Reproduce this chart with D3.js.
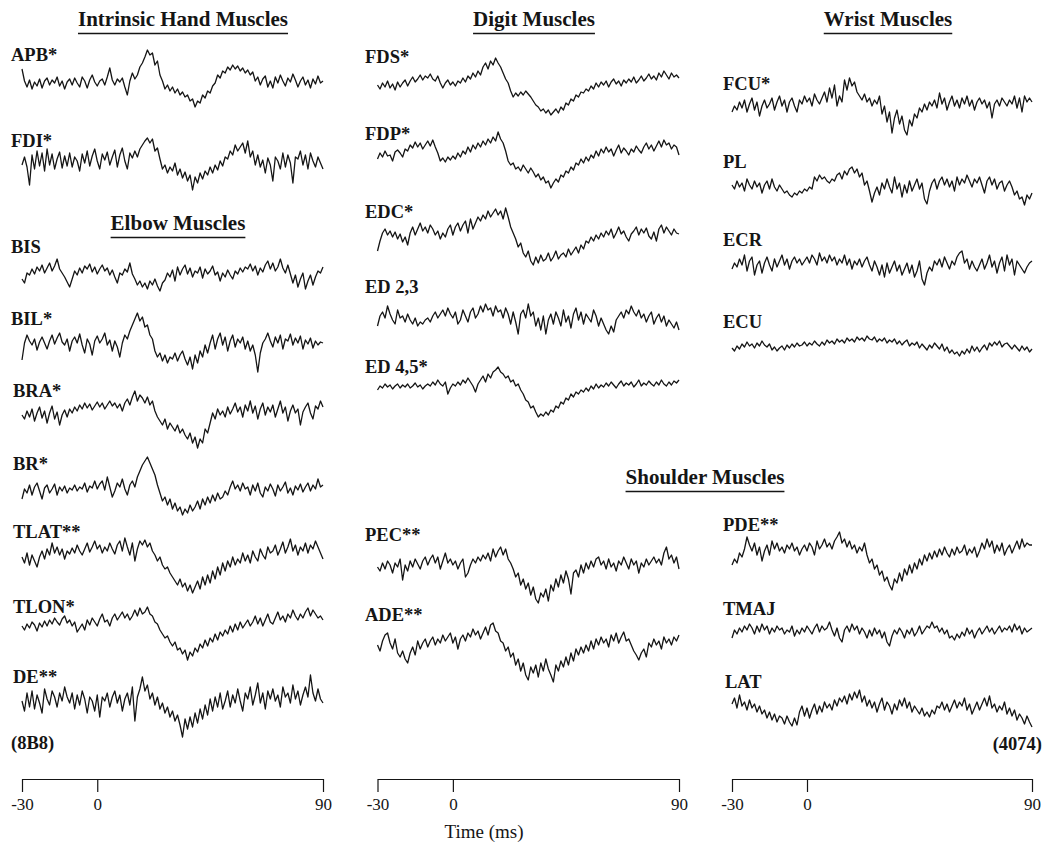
<!DOCTYPE html>
<html><head><meta charset="utf-8">
<script src="https://cdn.jsdelivr.net/npm/d3@7"></script>
<style>body{margin:0;background:#fff}svg{display:block}</style>
</head><body><svg id="c" width="1046" height="846"></svg>
<script>
// ---- data (spike-triggered averages, arbitrary units, up = positive) ----
const timeMs = d3.range(-30, 91, 1);        // sample times, -30 .. 90 ms
const axisTicks = [-30, 0, 90];
const groupTitles = ["Intrinsic Hand Muscles", "Elbow Muscles", "Digit Muscles", "Wrist Muscles", "Shoulder Muscles"];
const cellIds = ["(8B8)", "(4074)"];
const axisTitle = "Time (ms)";

const APB = [14,2,-4,3,-6,1,-3,4,-5,2, 5,-2,3,0,6,-3,2,-6,1,4, -2,5,0,-4,6,2,-5,3,8,1, -3,2,4,-2,6,15,3,-2,4,1, 5,-4,-12,2,10,4,8,16,20,26, 33,28,30,18,22,8,2,-6,-2,-8, -4,-10,-6,-12,-9,-14,-12,-18,-16,-24, -18,-20,-12,-15,-8,-10,-3,0,8,5, 12,10,16,13,18,14,17,12,15,10, 13,8,11,2,6,-2,4,7,-4,2, -5,6,0,8,2,-3,5,1,9,3, -4,2,6,-2,3,-5,4,-1,7,0, 2];
const FDI = [-2,6,-4,-22,8,-6,12,-3,10,-8, 14,-2,9,-6,4,11,-5,7,-3,10, -4,6,2,-8,9,0,12,-3,7,14, 2,-6,9,3,11,-2,6,13,-4,8, 15,2,-6,10,5,12,6,14,18,22, 25,20,24,12,15,4,-6,-2,-10,-4, -8,0,-12,-6,-15,-9,-18,-12,-27,-14, -20,-10,-16,-8,-12,-4,-10,-2,-7,2, -3,6,4,12,8,18,12,16,20,10, 22,6,12,-2,8,-4,3,-10,5,-2, -18,6,2,-6,10,-4,8,0,-20,6, 4,12,-2,8,-6,10,2,-4,6,0, -6];
const BIS = [-2,-6,4,2,8,3,10,6,12,4, 9,14,6,11,18,8,4,0,-5,-10, -2,6,2,9,4,11,8,13,5,10, 3,8,12,6,9,2,7,0,-6,4, 2,8,5,14,3,-2,-8,-4,-10,-6, -12,-4,-8,-2,-9,-14,-6,-3,4,0, 7,-4,10,2,8,12,3,9,0,6, 4,10,-1,8,3,6,11,2,5,-4, 4,0,7,2,-2,6,3,9,5,10, 8,13,6,11,2,9,5,12,16,8, 14,6,10,18,9,4,12,3,-6,2, -10,-2,4,-12,-4,2,-8,0,6,4, 10];
const BIL = [-13,4,12,6,2,8,-3,5,10,4, -2,6,12,3,9,14,5,2,8,-4, 6,10,4,13,2,-6,8,3,-8,6, 11,4,8,14,2,7,-4,6,0,-10, 4,12,8,16,22,28,34,26,30,20, 22,12,8,-4,-10,-6,-14,-8,-16,-10, -12,-6,-14,-8,-4,-12,-18,-10,-22,-8, -16,-4,-10,2,-6,4,12,-2,8,14, 2,10,-4,6,12,0,8,4,10,-2, 6,-4,2,-8,-25,-6,4,8,14,6, 0,10,4,12,-2,8,6,13,2,9, 4,11,-2,7,3,9,-1,6,2,5, 4];
const BRA = [0,-4,4,-2,6,-6,2,8,-3,4, -8,2,9,-4,3,-10,0,5,-2,6, 2,8,4,10,6,12,7,11,5,9, 13,8,12,6,10,14,9,12,7,11, 4,12,16,10,18,24,14,20,17,12, 18,10,14,4,-2,-6,-10,-4,-14,-8, -12,-16,-10,-18,-14,-20,-24,-18,-28,-22, -33,-24,-28,-14,-18,-8,2,-4,6,0, 4,-2,8,1,6,12,3,8,-2,10, 4,14,2,9,-4,6,12,0,8,3, 10,-2,6,14,2,8,-6,4,10,2, 6,-10,3,8,12,2,-4,9,6,14, 8];
const BR = [-6,4,0,8,-2,6,10,2,-6,5, 8,0,4,9,-2,6,2,7,0,5, 3,8,2,6,4,10,1,7,5,12, 4,9,12,3,16,6,-4,2,10,6, 14,4,-2,8,12,6,16,22,28,32, 36,30,24,18,8,0,-8,-4,-12,-6, -16,-10,-18,-14,-22,-16,-20,-12,-18,-14, -8,-16,-6,-12,-4,-10,-2,-8,0,-6, -4,2,-2,6,12,4,8,2,10,4, 6,-2,8,2,10,0,-4,6,2,9, 4,-3,8,2,6,11,0,5,-2,7, 3,9,1,6,10,2,8,4,14,6, 8];
const TLAT = [0,-6,4,-8,2,-4,-10,0,6,-2, 8,2,14,4,10,2,8,-2,6,3, 9,4,12,6,2,8,14,5,10,16, 8,12,4,10,6,14,8,3,12,16, 6,19,10,2,14,-4,8,16,12,17, 10,14,6,2,-4,0,-8,-12,-10,-16, -20,-24,-28,-22,-30,-26,-34,-28,-36,-30, -24,-32,-20,-28,-18,-26,-14,-22,-10,-18, -6,-14,-4,-10,0,-8,-2,-6,4,-4, 2,-6,6,0,-4,8,2,-2,10,4, 6,12,2,8,15,4,10,18,6,12, 2,10,6,14,4,12,8,16,10,4, -2];
const TLON = [2,-2,4,0,6,3,-3,5,1,7, 2,8,4,10,6,3,9,12,5,8, 2,6,-4,0,4,-2,8,3,10,6, 2,9,14,6,8,2,10,14,8,12, 16,10,14,8,12,18,12,20,14,16, 21,14,12,6,4,-2,-6,-10,-8,-14, -18,-14,-22,-20,-26,-22,-32,-24,-28,-20, -24,-16,-20,-12,-18,-10,-14,-6,-12,-4, -8,-2,-6,2,-4,4,-2,6,0,4, 8,2,6,12,4,10,2,8,14,6, 4,10,16,8,12,6,14,10,18,12, 8,14,10,16,20,12,18,14,10,12, 8];
const DE = [2,-8,10,-4,12,-6,8,0,-10,14, 4,-2,12,6,-4,10,2,16,6,0, 10,-6,8,-2,12,4,-10,6,2,-8, 8,-14,6,2,10,-4,6,12,0,8, -8,4,10,-2,16,-18,6,14,26,12, 18,4,10,-2,6,-6,0,-10,-4,-14, -8,-18,-12,-22,-34,-16,-26,-14,-24,-10, -20,-6,-16,-2,-12,4,-8,6,-4,10, -6,2,12,-4,8,0,14,2,-8,10, 4,16,-2,8,20,0,10,-6,12,4, 14,2,8,-4,16,6,10,0,18,4, 12,-2,8,16,6,28,10,2,14,4, 0];
const FDS = [0,-4,2,-2,4,-3,1,-5,3,-2, 2,5,-1,4,8,3,6,10,5,9, 7,11,6,4,9,2,-3,2,5,0, 3,-1,4,2,7,3,9,6,12,8, 14,10,18,22,16,24,20,27,22,18, 12,6,2,-6,-12,-8,-11,-7,-10,-6, -9,-12,-16,-20,-22,-26,-24,-28,-25,-30, -27,-24,-28,-22,-25,-18,-20,-14,-16,-10, -12,-7,-8,-4,-6,-1,-4,2,-2,3, 0,4,-2,3,6,1,4,-1,5,2, 6,3,8,2,5,9,4,7,11,6, 9,5,12,8,14,10,6,12,8,10, 7];
const FDP = [-4,2,-2,4,-1,0,-6,3,5,2, -2,6,4,10,7,13,8,12,6,10, 14,9,15,8,2,-6,-3,-7,-2,-5, -1,-4,2,-2,4,1,8,3,10,6, 12,8,14,10,16,12,18,14,23,16, 12,4,-6,-10,-8,-14,-12,-16,-10,-14, -18,-13,-17,-22,-19,-25,-22,-28,-26,-33, -28,-24,-27,-20,-22,-16,-18,-12,-15,-8, -10,-4,-8,-2,-6,0,-3,4,-1,6, 2,8,3,6,-1,5,10,2,7,4, 0,6,3,9,5,2,8,12,6,10, 4,9,14,8,15,10,12,6,10,8, 0];
const EDC = [-14,-4,4,8,2,6,0,5,-2,3, -5,0,-8,4,10,2,8,14,6,10, 4,12,8,2,6,-2,4,0,8,12, 2,10,14,6,12,16,4,18,8,14, 20,16,22,18,26,20,24,28,22,26, 18,29,20,10,4,-2,-10,-6,-16,-20, -14,-24,-28,-20,-26,-18,-24,-22,-16,-24, -20,-14,-22,-18,-16,-20,-12,-18,-14,-10, -16,-8,-12,-4,-6,0,-4,2,-2,4, 0,6,2,8,-1,4,10,3,6,0, -4,3,6,10,2,8,4,9,1,-2, 5,-4,8,12,4,10,6,2,8,4, 3];
const ED23 = [-6,4,8,2,14,6,0,-4,10,2, 4,-2,6,0,-4,2,-6,-2,-4,0, 2,-2,4,8,2,6,10,4,12,6, 2,8,-4,0,10,4,-2,8,12,2, 6,14,8,16,10,12,4,14,8,10, 2,12,6,-4,8,-2,-14,6,10,2, 16,4,8,-6,2,-10,4,-14,0,6, -4,8,2,-6,10,-2,4,-8,6,12, 0,8,-4,6,2,-2,10,4,-6,2, -4,-10,-14,-6,-12,0,4,8,2,10, 6,14,8,4,10,2,6,-2,4,8, -4,2,6,-2,4,-6,0,-4,-8,-2, -10];
const ED45 = [-2,2,0,4,1,3,-1,2,4,0, 3,1,4,0,2,5,1,3,-1,2, 4,2,6,3,8,4,2,6,-6,0, 4,2,6,3,8,5,10,6,2,-4, 4,8,12,6,14,10,16,18,21,16, 14,10,12,6,8,2,4,-2,-6,-12, -14,-20,-18,-24,-29,-26,-28,-24,-27,-22, -24,-18,-20,-14,-16,-10,-12,-6,-9,-4, -6,-2,-4,0,-3,2,-1,4,0,3, 1,5,2,6,3,0,4,7,2,5, 3,6,1,4,8,2,5,3,7,4, 2,6,3,8,4,2,6,3,7,5, 8];
const PEC = [0,-4,4,-2,6,2,-6,4,0,8, -13,2,-4,6,0,8,3,-2,6,10, 2,8,12,4,10,-2,6,14,4,8, 2,6,-2,4,8,-10,-6,2,8,4, 10,6,12,8,14,6,18,10,16,20, 12,18,8,4,-2,-10,-6,-18,-12,-22, -16,-28,-20,-32,-36,-26,-30,-22,-34,-18, -24,-12,-20,-8,-16,-4,-12,-27,-6,-3, -10,2,-6,4,-2,6,0,8,10,2, 6,-2,8,0,4,-4,6,2,10,4, -2,8,2,6,-6,4,0,8,2,6, 10,4,8,2,14,20,8,12,4,10, -2];
const ADE = [0,-6,4,10,12,2,-4,6,-8,-12, -6,-14,-18,-8,-2,-10,4,-4,2,6, -2,4,8,0,6,2,10,4,8,12, 2,8,-4,6,10,4,12,8,16,10, 14,6,12,18,10,20,22,14,12,4, 2,-6,-2,-12,-8,-20,-14,-26,-18,-30, -35,-22,-28,-20,-32,-18,-26,-14,-24,-30, -37,-20,-26,-16,-22,-12,-20,-8,-16,-4, -10,-2,-8,0,-6,4,-4,6,0,8, 2,6,-2,10,4,12,2,8,13,4, 6,0,-6,-10,-15,-8,-4,-12,2,-2, 6,0,4,-4,8,2,6,0,8,4, 10];
const FCU = [-4,2,-2,6,0,8,-4,4,10,-2, 6,-8,2,8,0,4,10,-2,6,12, 2,8,-4,6,10,2,-4,8,4,12, 6,10,2,14,8,4,10,16,6,20, 10,23,2,12,6,28,18,30,22,26, 16,12,8,14,6,10,2,8,4,12, -6,2,-14,-4,-25,-10,-2,-16,-8,-22, -27,-12,-18,-6,-10,0,-4,4,-2,6, 2,8,0,15,4,10,-2,6,12,2, 8,0,10,4,12,2,8,-2,6,10, 4,8,0,6,-10,4,8,2,10,6, 2,8,4,12,0,10,-4,12,6,10, 6];
const PL = [2,-2,6,0,4,-4,8,2,-2,6, 0,4,-6,2,6,-2,8,0,-4,2, -2,-6,-4,-8,-10,-6,-8,-4,-6,-2, -4,0,-2,10,6,12,8,10,6,4, 8,6,12,14,8,16,12,18,20,14, 18,10,14,2,6,-4,-15,-6,0,-8, 4,-2,8,0,-6,10,-2,4,-10,2, -6,6,-4,2,8,-2,4,-12,-17,-4, 4,8,-2,6,10,2,8,0,6,-4, 10,2,8,4,12,6,0,8,4,10, 2,-6,6,10,2,8,-2,4,6,-4, 2,6,0,-8,-4,-12,-10,-18,-8,-12, -6];
const ECR = [-2,4,0,8,2,12,-4,6,10,-8, 2,6,-6,4,10,2,-4,8,0,6, 12,2,8,-2,6,10,4,8,2,6, 10,4,12,8,2,14,6,10,4,12, 6,10,2,8,4,12,2,8,-2,6, 2,8,0,6,10,2,-4,6,0,-8, 2,-10,4,-6,0,6,-4,2,-8,-2, 4,-6,2,-10,-4,6,-12,-18,-6,0, -4,6,2,8,0,10,4,-2,6,2, 10,14,16,4,8,-2,6,0,-4,2, 8,-2,4,12,0,6,-6,4,10,-4, 12,2,8,-8,6,2,-2,-6,0,4, 6];
const ECU = [0,-3,2,-1,4,1,6,2,4,0, 5,2,7,3,1,4,-2,1,-3,0, 2,-2,3,0,4,1,5,2,3,6, 2,5,3,7,4,2,6,3,8,5, 7,4,9,6,8,5,10,7,9,6, 11,8,10,7,12,9,8,11,6,9, 7,10,5,8,6,9,4,7,3,6, 8,2,5,3,6,0,4,1,-2,3, 0,5,2,-1,4,-3,1,-5,-2,-6, -4,-8,-3,-6,-1,-5,2,-3,1,-4, 0,3,-2,5,2,6,3,7,1,4, 5,2,-1,3,0,-3,2,-2,1,-4, -1];
const PDE = [-8,-2,-6,4,0,8,20,12,6,14, 2,10,-4,6,12,2,16,8,14,6, 10,4,12,8,14,6,10,2,8,12, 6,14,10,2,16,8,12,18,10,14, 8,16,20,25,14,18,10,16,8,12, 4,10,6,14,2,-6,-2,-12,-8,-18, -14,-24,-20,-28,-33,-22,-26,-16,-24,-12, -18,-8,-16,-6,-12,-2,-8,2,-4,4, -2,6,0,8,2,10,4,0,8,2, 10,4,6,12,2,8,4,10,0,6, 14,8,18,10,16,4,12,6,14,2, 8,12,4,10,16,8,18,10,14,12, 12];
const TMAJ = [-6,2,-2,4,0,6,2,8,4,-2, 6,0,8,2,6,-2,4,0,6,2, 4,-2,2,0,6,-4,2,-2,4,0, 6,2,-2,4,8,0,6,2,4,10, 2,-4,4,-6,-10,2,6,0,8,2, 6,-2,4,0,-6,2,-4,4,-2,2, -6,0,-10,-14,-4,2,-2,4,0,-6, 2,-2,4,-4,0,6,-2,2,6,4, 10,4,6,0,4,-2,2,-6,-4,-8, -2,-6,0,-4,4,-2,2,-6,0,4, -2,2,6,0,4,-2,2,6,0,4, 2,6,0,8,2,6,-2,4,0,2, 4];
const LAT = [6,12,2,15,4,8,0,10,2,6, -2,4,-4,0,-8,-2,-10,-4,-12,-6, -8,-14,-6,-12,-16,-8,-15,-2,4,-6, 2,-8,0,6,-4,4,-2,8,2,6, 0,10,4,12,8,14,6,16,10,18, 12,20,8,14,4,10,2,8,-2,6, 12,0,8,4,-4,6,0,10,4,12, 2,8,-2,4,0,-4,2,-6,-2,-7, 0,-4,4,2,8,0,6,-2,4,10, 2,8,4,12,0,6,-4,2,8,0, 6,12,4,14,2,6,-2,4,0,8, -4,2,-6,0,-10,-4,-8,-14,-6,-12, -17];

const muscleNames = ["APB*","FDI*","BIS","BIL*","BRA*","BR*","TLAT**","TLON*","DE**",
  "FDS*","FDP*","EDC*","ED 2,3","ED 4,5*","PEC**","ADE**",
  "FCU*","PL","ECR","ECU","PDE**","TMAJ","LAT"];
const muscleSeries = [APB,FDI,BIS,BIL,BRA,BR,TLAT,TLON,DE, FDS,FDP,EDC,ED23,ED45,PEC,ADE, FCU,PL,ECR,ECU,PDE,TMAJ,LAT];

// ---- layout (positions, not data) ----
const columns = [{x0:22, x1:323}, {x0:377.5, x1:679}, {x0:732, x1:1032}];
const traceLayout = [
  {col:0, cy:83,  lx:11,  ly:61},
  {col:0, cy:163, lx:11,  ly:147},
  {col:0, cy:277, lx:11,  ly:253},
  {col:0, cy:347, lx:11,  ly:325},
  {col:0, cy:415, lx:13,  ly:397},
  {col:0, cy:493, lx:13,  ly:470},
  {col:0, cy:557, lx:13,  ly:538},
  {col:0, cy:628, lx:13,  ly:613},
  {col:0, cy:703, lx:13,  ly:683},
  {col:1, cy:85,  lx:365, ly:63},
  {col:1, cy:155, lx:365, ly:140},
  {col:1, cy:237, lx:365, ly:218},
  {col:1, cy:320, lx:365, ly:293},
  {col:1, cy:388, lx:365, ly:373},
  {col:1, cy:567, lx:365, ly:541},
  {col:1, cy:645, lx:365, ly:621},
  {col:2, cy:108, lx:723, ly:90},
  {col:2, cy:187, lx:723, ly:168},
  {col:2, cy:267, lx:723, ly:246},
  {col:2, cy:348, lx:723, ly:328},
  {col:2, cy:557, lx:723, ly:531},
  {col:2, cy:632, lx:723, ly:615},
  {col:2, cy:710, lx:725, ly:688}
];
const titleLayout = [
  {cx:183, y:26}, {cx:178, y:230}, {cx:534, y:26}, {cx:888, y:26}, {cx:705, y:484}
];

const svg = d3.select("#c");
const FONT = "'Liberation Serif','Times New Roman',serif";
const INK = "#151515";

// titles with underline
groupTitles.forEach((t, i) => {
  const L = titleLayout[i];
  const txt = svg.append("text").attr("x", L.cx).attr("y", L.y)
    .attr("text-anchor", "middle").attr("font-family", FONT)
    .attr("font-weight", "bold").attr("font-size", 21).attr("fill", INK).text(t);
  const w = txt.node().getComputedTextLength();
  svg.append("line").attr("x1", L.cx - w/2).attr("x2", L.cx + w/2)
    .attr("y1", L.y + 7.5).attr("y2", L.y + 7.5)
    .attr("stroke", INK).attr("stroke-width", 1.4);
});

// x scales per column
const xScales = columns.map(c => d3.scaleLinear().domain([-30, 90]).range([c.x0, c.x1]));

// traces
muscleSeries.forEach((series, i) => {
  const L = traceLayout[i];
  const x = xScales[L.col];
  const y = d3.scaleLinear().domain([-50, 50]).range([L.cy + 50, L.cy - 50]);
  const line = d3.line().x((d, j) => x(timeMs[j])).y(d => y(d));
  svg.append("path").datum(series).attr("d", line)
    .attr("fill", "none").attr("stroke", INK).attr("stroke-width", 1.3)
    .attr("stroke-linejoin", "round");
  svg.append("text").attr("x", L.lx).attr("y", L.ly)
    .attr("font-family", FONT).attr("font-weight", "bold").attr("font-size", 18.5)
    .attr("fill", INK).text(muscleNames[i]);
});

// cell ids
svg.append("text").attr("x", 11).attr("y", 749).attr("font-family", FONT)
  .attr("font-weight", "bold").attr("font-size", 18.5).attr("fill", INK).text(cellIds[0]);
svg.append("text").attr("x", 1042).attr("y", 750).attr("text-anchor", "end").attr("font-family", FONT)
  .attr("font-weight", "bold").attr("font-size", 18.5).attr("fill", INK).text(cellIds[1]);

// time axes
xScales.forEach(x => {
  const g = svg.append("g").attr("transform", "translate(0,779)")
    .call(d3.axisBottom(x).tickValues(axisTicks).tickSize(13).tickSizeOuter(0).tickPadding(6).tickFormat(d => String(d)));
  g.select(".domain").attr("stroke", INK).attr("stroke-width", 1.2);
  g.selectAll(".tick line").attr("stroke", INK).attr("stroke-width", 1.2);
  g.selectAll(".tick text").attr("font-family", FONT).attr("font-size", 17).attr("fill", INK);
});
svg.append("text").attr("x", 484).attr("y", 838).attr("text-anchor", "middle")
  .attr("font-family", FONT).attr("font-size", 19).attr("fill", INK).text(axisTitle);
</script></body></html>
